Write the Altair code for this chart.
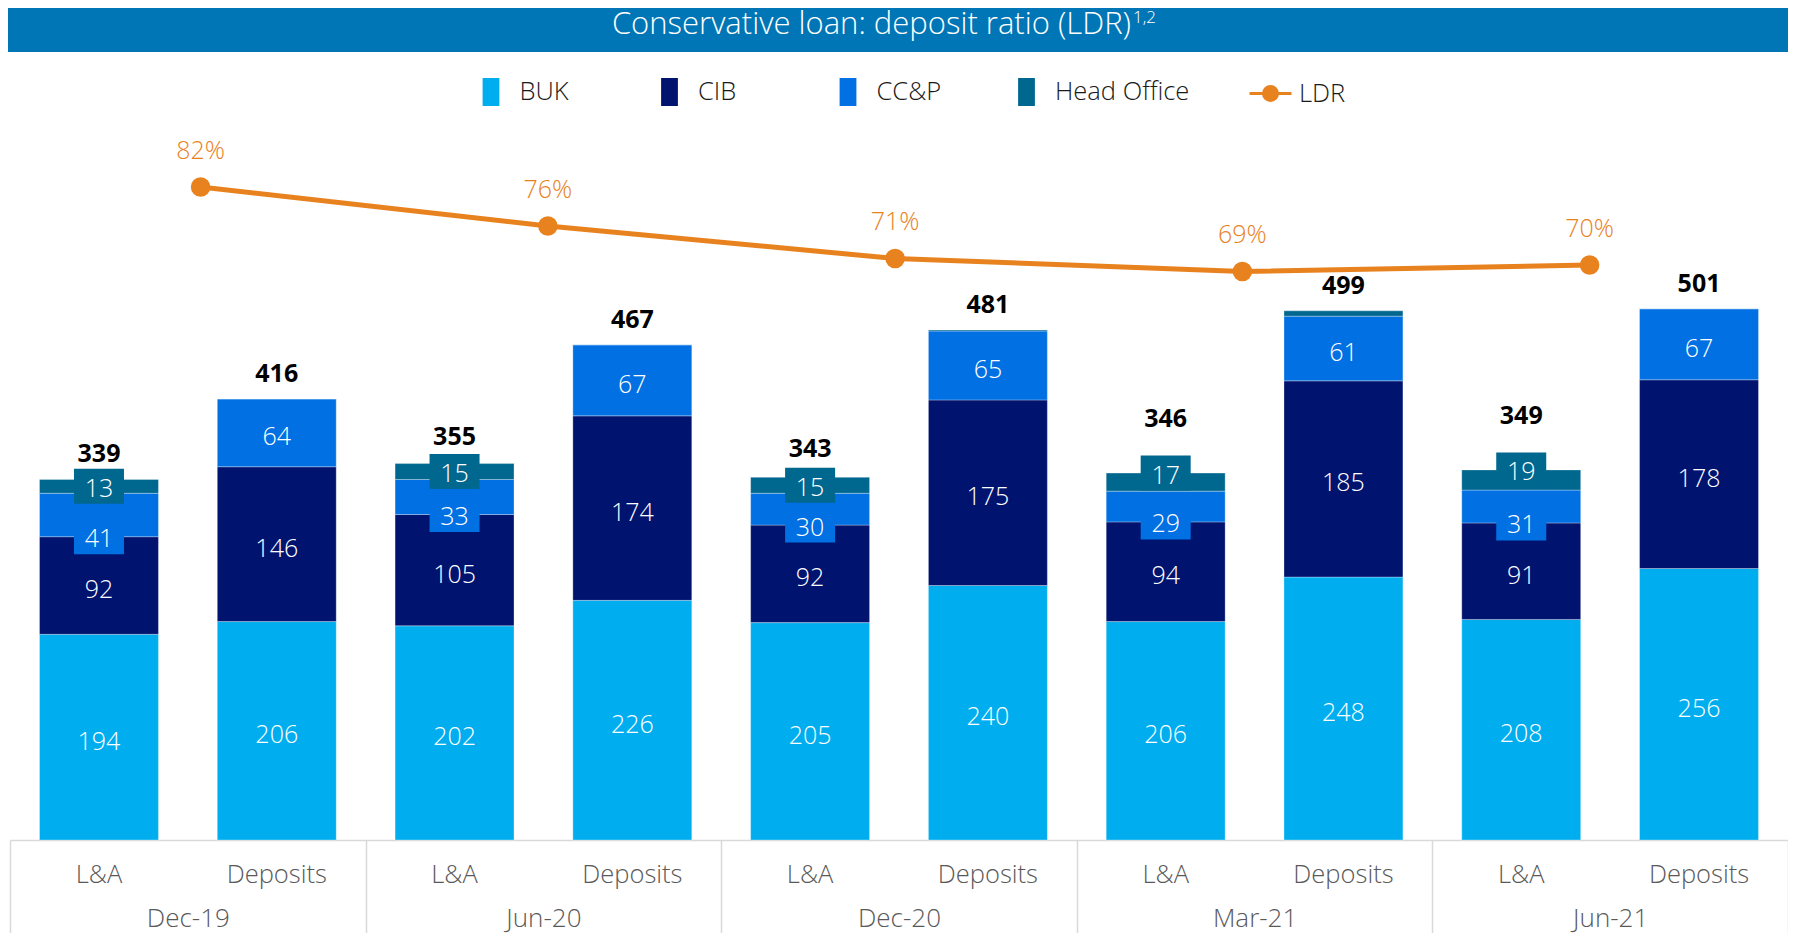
import altair as alt
import pandas as pd
import json

# ---------------- data ----------------
periods = ["Dec-19", "Jun-20", "Dec-20", "Mar-21", "Jun-21"]
bar_types = ["L&A", "Deposits"]
segments = ["BUK", "CIB", "CC&P", "Head Office"]
seg_colors = ["#00AEEF", "#00136F", "#0070E3", "#00678F"]

buk_la = [194, 202, 205, 206, 208]
cib_la = [92, 105, 92, 94, 91]
ccp_la = [41, 33, 30, 29, 31]
ho_la = [13, 15, 15, 17, 19]

buk_dep = [206, 226, 240, 248, 256]
cib_dep = [146, 174, 175, 185, 178]
ccp_dep = [64, 67, 65, 61, 67]
ho_dep = [0, 0, 1, 5, 0]

total_la = [339, 355, 343, 346, 349]
total_dep = [416, 467, 481, 499, 501]

ldr = [82, 76, 71, 69, 70]

TITLE = "Conservative loan: deposit ratio (LDR)"
TITLE_SUP = "1,2"

# ---------------- styles ----------------
FONT = "Open Sans"
ORANGE = "#E8821E"
TITLE_BG = "#0076B6"
GRAY_TXT = "#595959"
FRAME = "#D9D9D9"
# periods whose L&A head-office label (and total) sit higher in the original
raised_label_periods = ["Mar-21", "Jun-21"]

W, H = 1778, 720

series = {
    ("L&A", "BUK"): buk_la, ("L&A", "CIB"): cib_la,
    ("L&A", "CC&P"): ccp_la, ("L&A", "Head Office"): ho_la,
    ("Deposits", "BUK"): buk_dep, ("Deposits", "CIB"): cib_dep,
    ("Deposits", "CC&P"): ccp_dep, ("Deposits", "Head Office"): ho_dep,
}
rows = []
for i, p in enumerate(periods):
    for t in bar_types:
        for k, s in enumerate(segments):
            rows.append({"key": f"{p}|{t}", "period": p, "type": t,
                         "segment": s, "order": k, "value": series[(t, s)][i]})
df = pd.DataFrame(rows)
keys = [f"{p}|{t}" for p in periods for t in bar_types]

tot_rows = []
for i, p in enumerate(periods):
    tot_rows.append({"key": f"{p}|L&A", "period": p, "type": "L&A", "total": total_la[i]})
    tot_rows.append({"key": f"{p}|Deposits", "period": p, "type": "Deposits",
                     "total": total_dep[i]})
tot_df = pd.DataFrame(tot_rows)

ldr_df = pd.DataFrame({"period": periods, "ldr": ldr, "series": ["LDR"] * len(periods)})
frame_df = pd.DataFrame({"period": periods})
one = pd.DataFrame({"a": [0]})

raised_expr = f"indexof({json.dumps(raised_label_periods)}, datum.period) >= 0"

# ---------------- scales / encodings ----------------
x_axis = alt.Axis(orient="bottom", title=None, domain=False, ticks=False, grid=False,
                  labelExpr="split(datum.label, '|')[1]", labelFont=FONT, labelFontSize=25.5,
                  labelFontWeight=300,
                  labelColor=GRAY_TXT, labelPadding=34, labelBaseline="middle", labelAngle=0)
X = alt.X("key:N", sort=keys,
          scale=alt.Scale(domain=keys, paddingInner=0.331, paddingOuter=0.166), axis=x_axis)
YS = alt.Scale(domain=[0, 679], nice=False, zero=True)

seg_scale = alt.Scale(domain=segments, range=seg_colors)

RECT_PATH = "M-0.6,-1H0.6V1H-0.6Z"
BOX_PATH = "M-1,-0.7H1V0.7H-1Z"
LDR_PATH = ("M-1,0H1M0.333,0A0.333,0.333,0,1,1,-0.333,0"
            "A0.333,0.333,0,1,1,0.333,0Z")

base = alt.Chart(df).transform_stack(
    stack="value", groupby=["key"], sort=[alt.SortField("order", "ascending")],
    as_=["y0", "y1"]
).transform_calculate(
    mid="(datum.y0 + datum.y1) / 2",
).transform_calculate(
    ly=f"datum.segment == 'CC&P' ? datum.y0 : ({raised_expr} ? datum.y1 : datum.mid)",
)

bars = base.mark_bar(stroke="white", strokeWidth=0.6, strokeOpacity=0.5).encode(
    x=X,
    y=alt.Y("y0:Q", scale=YS, axis=None),
    y2="y1:Q",
    color=alt.Color("segment:N", scale=seg_scale, legend=alt.Legend(
        orient="none", legendX=467, legendY=-42, direction="horizontal", columns=4,
        title=None, symbolType=RECT_PATH, symbolSize=784, symbolStrokeWidth=0,
        symbolOpacity=1, labelFont=FONT, labelFontSize=25.5, labelFontWeight=300,
        labelColor="#1A1A1A", labelOffset=14.5, columnPadding=1.5, gridAlign="all",
        padding=0)),
)

NUM_STYLE = dict(color="white", font=FONT, fontSize=25, fontWeight=300, baseline="middle")

mid_labels = base.transform_filter(
    "datum.segment == 'BUK' || datum.segment == 'CIB' || "
    "(datum.type == 'Deposits' && datum.segment == 'CC&P')"
).mark_text(dy=4.5, **NUM_STYLE).encode(
    x=X, y=alt.Y("mid:Q", scale=YS, axis=None), text=alt.Text("value:Q"))

small = base.transform_filter(
    "datum.type == 'L&A' && (datum.segment == 'CC&P' || datum.segment == 'Head Office')")

boxes = small.mark_point(shape=BOX_PATH, size=2500, filled=True, opacity=1,
                         strokeWidth=0).encode(
    x=X, y=alt.Y("ly:Q", scale=YS, axis=None),
    fill=alt.Fill("segment:N", scale=seg_scale, legend=None))

box_labels = small.mark_text(dy=2.5, **NUM_STYLE).encode(
    x=X, y=alt.Y("ly:Q", scale=YS, axis=None), text=alt.Text("value:Q"))

tot_base = alt.Chart(tot_df)
tot_style = dict(font=FONT, fontSize=25, fontWeight="bold", color="#000000",
                 baseline="middle")
tot_enc = dict(x=X, y=alt.Y("total:Q", scale=YS, axis=None), text=alt.Text("total:Q"))
tot_la_low = tot_base.transform_filter(
    f"datum.type == 'L&A' && !({raised_expr})").mark_text(dy=-27, **tot_style).encode(**tot_enc)
tot_la_high = tot_base.transform_filter(
    f"datum.type == 'L&A' && ({raised_expr})").mark_text(dy=-54, **tot_style).encode(**tot_enc)
tot_dep = tot_base.transform_filter("datum.type == 'Deposits'").mark_text(
    dy=-25, **tot_style).encode(**tot_enc)

inner = alt.layer(bars, mid_labels, boxes, box_labels, tot_la_low, tot_la_high, tot_dep)

# LDR line
XL = alt.X("period:N", sort=periods,
           scale=alt.Scale(type="point", domain=periods, padding=0.56, align=0.49),
           axis=None)
YL = alt.Y("ldr:Q", scale=alt.Scale(domain=[-18.46, 92.31], nice=False, zero=False),
           axis=None)
lbase = alt.Chart(ldr_df)
ldr_line = lbase.mark_line(strokeWidth=5).encode(
    x=XL, y=YL,
    color=alt.Color("series:N", scale=alt.Scale(domain=["LDR"], range=[ORANGE]),
                    legend=alt.Legend(
                        orient="none", legendX=1238, legendY=-49, title=None,
                        symbolType=LDR_PATH, symbolSize=1764, symbolStrokeWidth=3,
                        symbolFillColor=ORANGE, symbolStrokeColor=ORANGE,
                        labelFont=FONT, labelFontSize=25.5, labelFontWeight=300,
                        labelColor="#1A1A1A", labelOffset=6, padding=0)))
ldr_pts = lbase.mark_circle(size=380, opacity=1, color=ORANGE).encode(x=XL, y=YL)
ldr_txt = lbase.transform_calculate(lbl="datum.ldr + '%'").mark_text(
    dy=-36.5, color=ORANGE, font=FONT, fontSize=25, fontWeight=300,
    baseline="middle").encode(x=XL, y=YL, text="lbl:N")
ldr_layer = alt.layer(ldr_line, ldr_pts, ldr_txt)

# frame / group axis
frame = alt.Chart(frame_df).mark_point(opacity=0).encode(
    x=alt.X("period:N", sort=periods,
            scale=alt.Scale(type="band", domain=periods, paddingInner=0, paddingOuter=0),
            axis=alt.Axis(orient="bottom", title=None, grid=False,
                          domainColor=FRAME, domainWidth=1.5,
                          tickColor=FRAME, tickWidth=1.5, tickSize=100, tickBand="extent",
                          labelFont=FONT, labelFontSize=26, labelFontWeight=300,
                          labelColor=GRAY_TXT,
                          labelPadding=-14, labelBaseline="alphabetic", labelAngle=0)))

# title bar
title_bar = alt.Chart(one).mark_rect(color=TITLE_BG).encode(
    x=alt.value(-2), x2=alt.value(W), y=alt.value(-112), y2=alt.value(-68))
title_text = alt.Chart(one).mark_text(
    text=TITLE, align="right", baseline="middle", color="white", font=FONT,
    fontSize=31, fontWeight=300).encode(x=alt.value(1121), y=alt.value(-95))
title_sup = alt.Chart(one).mark_text(
    text=TITLE_SUP, align="left", baseline="middle", color="white", font=FONT,
    fontSize=17, fontWeight=300).encode(x=alt.value(1123), y=alt.value(-102))

chart = alt.layer(
    title_bar, title_text, title_sup, inner, ldr_layer, frame
).resolve_scale(
    x="independent", y="independent", color="independent"
).properties(
    width=W, height=H,
    padding={"left": 2, "top": 112, "right": 0, "bottom": 93},
    autosize=alt.AutoSizeParams(type="none"),
).configure_view(stroke=None)

chart.save("out.html", embed_options={"renderer": "svg", "actions": False})
